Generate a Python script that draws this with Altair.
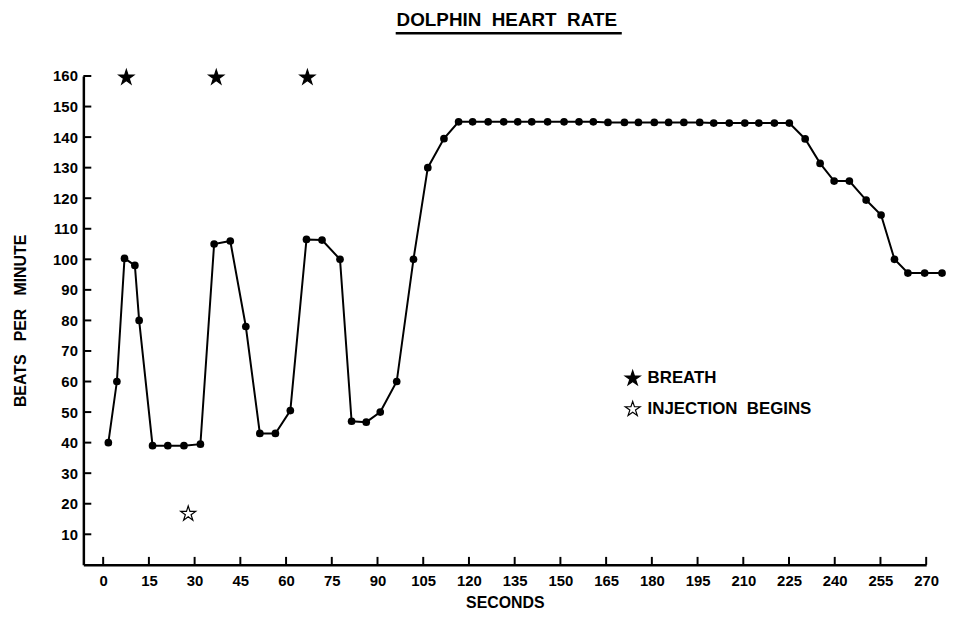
import altair as alt
import pandas as pd

# ---- data ----
seconds = [1.7, 4.5, 7.0, 10.4, 11.8, 16.2, 21.2, 26.5, 31.9, 36.4, 41.7, 46.8,
           51.4, 56.5, 61.4, 66.7, 71.8, 77.7, 81.5, 86.3, 90.9, 96.3, 101.8,
           106.5, 111.8, 116.6, 121.2, 126.3, 131.4, 136.0, 140.6, 145.8, 151.2,
           156.1, 160.8, 165.6, 171.0, 175.6, 180.8, 185.5, 190.5, 195.7, 200.3,
           205.4, 210.5, 215.1, 220.2, 225.1, 230.3, 235.2, 239.8, 244.8, 250.3,
           255.2, 259.6, 264.0, 269.5, 275.2]
bpm = [40, 60, 100.3, 98, 80, 39, 39, 39, 39.5, 105, 106, 78,
       43, 43, 50.5, 106.5, 106.3, 100, 47, 46.7, 50, 60, 100,
       130, 139.5, 145, 145, 145, 145, 145, 145, 145, 145,
       145, 145, 144.8, 144.8, 144.8, 144.8, 144.8, 144.8, 144.8, 144.6,
       144.6, 144.6, 144.6, 144.6, 144.6, 139.4, 131.4, 125.6, 125.6, 119.4,
       114.5, 100, 95.5, 95.5, 95.5]

breath_sec = [7.6, 37.1, 67.0]
breath_bpm = [159.5, 159.5, 159.5]
injection_sec = [27.9]
injection_bpm = [16.7]

event_labels = ["BREATH", "INJECTION\u00a0\u00a0BEGINS"]
x_ticks = list(range(0, 271, 15))
y_ticks = list(range(10, 161, 10))

# ---- tables ----
hr = pd.DataFrame({"sec": seconds, "bpm": bpm})
ev = pd.DataFrame({
    "sec": breath_sec + injection_sec,
    "bpm": breath_bpm + injection_bpm,
    "event": [event_labels[0]] * len(breath_sec) + [event_labels[1]] * len(injection_sec),
})
xt = pd.DataFrame({"sec": x_ticks})
yt = pd.DataFrame({"bpm": y_ticks})

STAR = ("M0,-1 L0.2245,-0.309 L0.951,-0.309 L0.363,0.118 L0.588,0.809 L0,0.382 "
        "L-0.588,0.809 L-0.363,0.118 L-0.951,-0.309 L-0.2245,-0.309 Z")

FONT = "Liberation Sans"
W, H = 850, 493

xscale = alt.Scale(domain=[-6.5, 270], nice=False, zero=False)
yscale = alt.Scale(domain=[0, 160], nice=False, zero=False)

x_axis = alt.Axis(values=x_ticks, title="SECONDS", labelPadding=9, titlePadding=6)
y_axis = alt.Axis(values=y_ticks, title="BEATS\u00a0\u00a0\u00a0PER\u00a0\u00a0\u00a0MINUTE",
                  labelPadding=6, titlePadding=24)

X = alt.X("sec:Q", scale=xscale, axis=x_axis)
Y = alt.Y("bpm:Q", scale=yscale, axis=y_axis)

line = alt.Chart(hr).mark_line(color="black", strokeWidth=2).encode(x=X, y=Y)
points = alt.Chart(hr).mark_circle(color="black", size=60, opacity=1).encode(x=X, y=Y)

leg = alt.Legend(title=None)
stars = alt.Chart(ev).mark_point(filled=True, strokeWidth=1.2, size=250, opacity=1).encode(
    x=X,
    y=Y,
    shape=alt.Shape("event:N", scale=alt.Scale(domain=event_labels, range=[STAR, STAR]), legend=leg),
    fill=alt.Fill("event:N", scale=alt.Scale(domain=event_labels, range=["black", "white"]), legend=leg),
    stroke=alt.Stroke("event:N", scale=alt.Scale(domain=event_labels, range=["black", "black"]), legend=leg),
)

xticks = alt.Chart(xt).mark_rule(color="black", strokeWidth=2).encode(
    x=X, y=alt.value(H), y2=alt.value(H - 8)
)
yticks = alt.Chart(yt).mark_rule(color="black", strokeWidth=2).encode(
    y=Y, x=alt.value(0), x2=alt.value(8)
)

underline = alt.Chart(pd.DataFrame({"k": [0]})).mark_rule(color="black", strokeWidth=2.5).encode(
    x=alt.value(315), x2=alt.value(543), y=alt.value(-43)
)

chart = alt.layer(line, points, xticks, yticks, stars, underline).properties(
    width=W, height=H,
    title=alt.TitleParams(text="DOLPHIN\u00a0\u00a0HEART\u00a0\u00a0RATE", frame="group",
                          anchor="middle", font=FONT, fontSize=19, fontWeight="bold",
                          color="black", baseline="alphabetic", offset=5, dy=18, dx=2),
    autosize=alt.AutoSizeParams(type="none"),
    padding={"left": 76, "top": 66, "right": 22, "bottom": 46},
    background="white",
).configure_view(stroke=None).configure_axis(
    tickSize=0, domainColor="black", domainWidth=2.5, grid=False,
    labelFont=FONT, labelFontSize=15, labelFontWeight="bold",
    labelColor="black", labelOverlap=False, labelFlush=False,
    titleFont=FONT, titleFontSize=16, titleFontWeight="bold", titleColor="black",
).configure_legend(
    orient="none", legendX=545, legendY=296, symbolSize=250,
    symbolStrokeWidth=1.2, labelFont=FONT, labelFontSize=17, labelFontWeight="bold",
    labelColor="black", labelOffset=6, rowPadding=11, labelLimit=400,
)

chart.save("out.html", embed_options={"renderer": "svg", "actions": False})
